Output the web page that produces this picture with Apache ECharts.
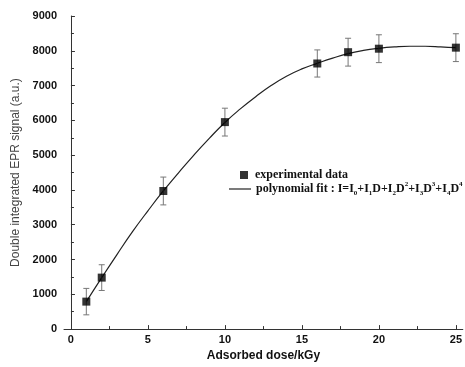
<!DOCTYPE html>
<html>
<head>
<meta charset="utf-8">
<script src="https://cdn.jsdelivr.net/npm/echarts@6/dist/echarts.min.js"></script>
<style>html,body{margin:0;padding:0;background:#fff}#c{width:465px;height:367px}</style>
</head>
<body>
<div id="c"></div>
<script>
// measured data points
var doses = [1, 2, 6, 10, 16, 18, 20, 25];
var signal = [790, 1480, 3970, 5950, 7635, 7960, 8060, 8090];
var errors = [380, 370, 400, 400, 390, 400, 400, 400];
// polynomial fit curve
var fitDose = [1, 2, 3, 4, 5, 6, 7, 8, 9, 10, 11, 12, 13, 14, 15, 16, 17, 18, 19, 20, 21, 22, 23, 24, 25];
var fitSignal = [790, 1480, 2150, 2800, 3400, 3970, 4500, 5010, 5490, 5940, 6330, 6680, 7000, 7270, 7480, 7640, 7790, 7920, 8010, 8070, 8110, 8130, 8130, 8115, 8090];
// ticks
var xMajorTicks = [0, 5, 10, 15, 20, 25];
var xMinorTicks = [2.5, 7.5, 12.5, 17.5, 22.5];

var chart = echarts.init(document.getElementById('c'));
var axisColor = '#333';
var pts = doses.map(function (d, i) { return [d, signal[i]]; });
var errs = doses.map(function (d, i) { return [d, signal[i] - errors[i], signal[i] + errors[i]]; });
var fit = fitDose.map(function (d, i) { return [d, fitSignal[i]]; });

chart.setOption({
  animation: false,
  grid: { left: 64, top: 16, right: 0, bottom: 36, containLabel: false },
  xAxis: [{
    type: 'value', min: -0.45, max: 25.45,
    name: 'Adsorbed dose/kGy', nameLocation: 'middle', nameGap: 20,
    nameTextStyle: { fontFamily: 'Liberation Sans', fontWeight: 'bold', fontSize: 12, color: '#111' },
    axisLine: { show: true, lineStyle: { color: axisColor } },
    axisTick: { show: true, inside: true, length: 4, customValues: xMajorTicks, lineStyle: { color: axisColor } },
    axisLabel: { customValues: xMajorTicks, fontFamily: 'Liberation Sans', fontWeight: 'bold', fontSize: 11, color: '#111', margin: 5 },
    splitLine: { show: false }
  }, {
    type: 'value', min: -0.45, max: 25.45, position: 'bottom',
    axisLine: { show: false },
    axisTick: { show: true, inside: true, length: 3, customValues: xMinorTicks, lineStyle: { color: axisColor } },
    axisLabel: { show: false }, splitLine: { show: false }
  }],
  yAxis: {
    type: 'value', min: 0, max: 9000, interval: 1000,
    name: 'Double integrated EPR signal (a.u.)', nameLocation: 'middle', nameGap: 40,
    nameTextStyle: { fontFamily: 'Liberation Sans', fontSize: 12, color: '#444' },
    axisLine: { show: true, lineStyle: { color: axisColor } },
    axisTick: { show: true, inside: true, length: 4, lineStyle: { color: axisColor } },
    minorTick: { show: true, splitNumber: 2, length: 3, lineStyle: { color: axisColor } },
    axisLabel: { formatter: function (v) { return String(v); }, fontFamily: 'Liberation Sans', fontWeight: 'bold', fontSize: 11, color: '#111', margin: 7 },
    splitLine: { show: false }
  },
  legend: [{
    data: ['experimental data'], left: 235, top: 164, orient: 'vertical',
    itemWidth: 8, itemHeight: 8, icon: 'rect',
    textStyle: { fontFamily: 'Liberation Serif', fontWeight: 'bold', fontSize: 12, color: '#111', padding: [0, 0, 0, 2] }
  }, {
    data: [{ name: 'polynomial fit', icon: 'rect', itemStyle: { color: '#222' } }], left: 224, top: 176, orient: 'vertical',
    itemWidth: 22, itemHeight: 1.2,
    formatter: function () {
      return 'polynomial fit : I=I{s|0}+I{s|1}D+I{s|2}D{p|2}+I{s|3}D{p|3}+I{s|4}D{p|4}';
    },
    textStyle: {
      fontFamily: 'Liberation Serif', fontWeight: 'bold', fontSize: 12, color: '#111', lineHeight: 16,
      rich: {
        s: { fontFamily: 'Liberation Serif', fontWeight: 'bold', fontSize: 7, color: '#111', verticalAlign: 'bottom', lineHeight: 16, padding: [6, 0, 0, 0] },
        p: { fontFamily: 'Liberation Serif', fontWeight: 'bold', fontSize: 7, color: '#111', verticalAlign: 'top', lineHeight: 16, padding: [0, 0, 6, 0] }
      }
    }
  }],
  series: [{
    name: 'polynomial fit', type: 'line', data: fit, smooth: true, symbol: 'none',
    lineStyle: { color: '#222', width: 1.2 }, itemStyle: { color: '#222' }, z: 2
  }, {
    name: 'error', type: 'custom', data: errs, z: 3,
    renderItem: function (params, api) {
      var x = api.value(0);
      var lo = api.coord([x, api.value(1)]);
      var hi = api.coord([x, api.value(2)]);
      var w = 3;
      var st = { stroke: '#777', lineWidth: 1, fill: null };
      return { type: 'group', children: [
        { type: 'line', shape: { x1: lo[0], y1: lo[1], x2: hi[0], y2: hi[1] }, style: st },
        { type: 'line', shape: { x1: lo[0] - w, y1: lo[1], x2: lo[0] + w, y2: lo[1] }, style: st },
        { type: 'line', shape: { x1: hi[0] - w, y1: hi[1], x2: hi[0] + w, y2: hi[1] }, style: st }
      ] };
    }
  }, {
    name: 'experimental data', type: 'scatter', data: pts, symbol: 'rect', symbolSize: 8,
    itemStyle: { color: '#000' }, z: 4
  }]
});
</script>
</body>
</html>
